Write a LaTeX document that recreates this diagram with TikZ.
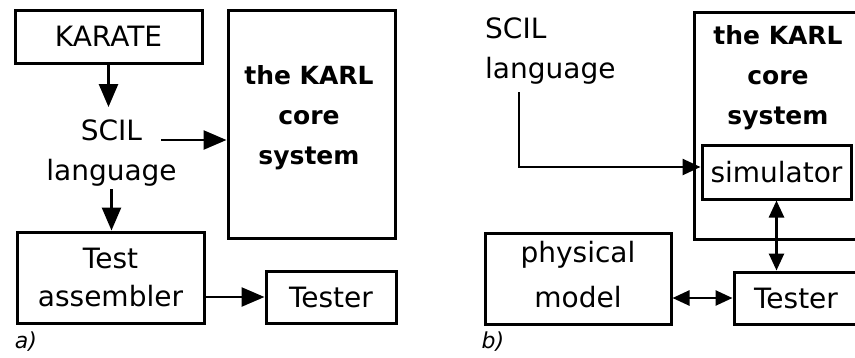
\documentclass[tikz,border=0pt]{standalone}
\usepackage{fontspec}
\setmainfont{DejaVu Sans}
\usetikzlibrary{arrows.meta}
\tikzset{
  box/.style={draw, line width=3pt, inner sep=0pt, align=center, font=\fontsize{28}{38}\selectfont},
  lbl/.style={inner sep=3pt, font=\fontsize{28}{38}\selectfont},
  karltxt/.style={inner sep=0pt, align=center, font=\fontsize{25}{40}\selectfont\bfseries},
  tag/.style={inner sep=0pt, font=\fontsize{22}{26}\selectfont\itshape},
  arr/.style={line width=2.6pt, -{Triangle[length=23pt,width=19pt]}},
  arrs/.style={line width=2.6pt, -{Triangle[length=18pt,width=16pt]}},
  darr/.style={line width=2.6pt, {Triangle[length=17pt,width=15pt]}-{Triangle[length=17pt,width=15pt]}}
}
\begin{document}
\begin{tikzpicture}[x=1pt,y=-1pt]
\useasboundingbox[fill=white] (0,0) rectangle (855,357);
% ---------- panel a ----------
\node[box, minimum width=187pt, minimum height=53pt] (karate) at (108.5,36.5) {KARATE};
\node[lbl, anchor=base] (scil) at (111.5,140) {SCIL};
\node[lbl, anchor=base] (lang) at (111.5,180) {language};
\node[box, minimum width=187pt, minimum height=91pt] (testasm) at (110.5,277.5) {Test\\assembler};
\node[box, minimum width=130pt, minimum height=52pt] (testera) at (331,297) {Tester};
\node[box, minimum width=167pt, minimum height=228pt] (karla) at (311.5,124) {};
\node[karltxt] (karlat) at (309,117.5) {the KARL\\core\\system};
\node[tag] (taga) at (26,342) {a)};
\coordinate (s1) at ([xshift=16pt]scil.base east);
\draw[arr, shorten >=9pt] (karate.south) -- (karate.south |- scil.north);
\draw[arr] (lang.south) -- (lang.south |- testasm.north);
\draw[arr] (s1) -- (s1 -| karla.west);
\draw[arr] (testera.west -| testasm.east) -- (testera.west);
% ---------- panel b ----------
\node[lbl, anchor=base west] (scilb) at (482,38) {SCIL};
\node[lbl, anchor=base west] (langb) at (482,78) {language};
\node[box, minimum width=164pt, minimum height=227pt] (karlb) at (776,125.5) {};
\node[karltxt, align=center] (karlbt) at (778,77.5) {the KARL\\core\\system};
\node[box, minimum width=149pt, minimum height=54pt] (sim) at (776.5,172) {simulator};
\node[box, minimum width=124pt, minimum height=52pt] (testerb) at (796,298) {Tester};
\node[box, minimum width=186pt, minimum height=91pt, font=\fontsize{28}{45}\selectfont] (phys) at (578,278.5) {physical\\model\rule[-9pt]{0pt}{0pt}};
\node[tag] (tagb) at (493,342) {b)};
\coordinate (s2) at ([xshift=37pt,yshift=-5pt]langb.south west);
\draw[arrs] (s2) |- ([yshift=5pt]sim.west);
\draw[darr] (sim.south) -- (sim.south |- testerb.north);
\draw[darr] (testerb.west -| phys.east) -- (testerb.west);
\end{tikzpicture}
\end{document}
